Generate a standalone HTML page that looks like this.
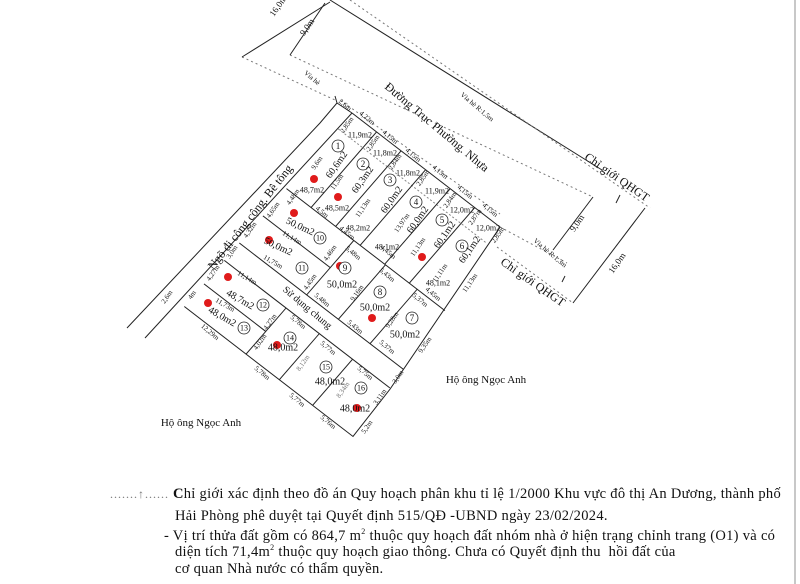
<!DOCTYPE html>
<html><head><meta charset="utf-8"><style>
html,body{margin:0;padding:0;background:#fff;}
body{width:800px;height:584px;overflow:hidden;position:relative;font-family:"Liberation Serif",serif;}
svg{position:absolute;left:0;top:0;}
.t{font-family:"Liberation Serif",serif;fill:#111;}
.note{position:absolute;font-size:14.5px;letter-spacing:0.3px;color:#111;white-space:nowrap;font-family:"Liberation Serif","Noto Serif CJK SC",serif;}
</style></head><body>
<svg width="800" height="584" viewBox="0 0 800 584">
<g stroke="#222" fill="none" stroke-width="1">
 <line x1="330" y1="0" x2="602" y2="170"/>
 <line x1="350" y1="0" x2="650" y2="208" stroke="#777" stroke-dasharray="2 3"/>
 <line x1="290" y1="55" x2="593" y2="197" stroke="#777" stroke-dasharray="2 3"/>
 <line x1="242" y1="57" x2="335" y2="100" stroke="#777" stroke-dasharray="2 3"/>
 <line x1="242" y1="57" x2="330" y2="2"/>
 <line x1="290" y1="55" x2="325" y2="3"/>
 <line x1="593" y1="197" x2="553" y2="250"/>
 <line x1="645" y1="208" x2="573" y2="303"/>
 <line x1="340" y1="100" x2="500" y2="214" stroke="#777" stroke-dasharray="2 3"/>
 <line x1="500" y1="227" x2="567" y2="263" stroke="#777" stroke-dasharray="2 3"/>
 <line x1="497" y1="247" x2="573" y2="303" stroke="#777" stroke-dasharray="2 3"/>
 <line x1="620" y1="195" x2="616" y2="203"/>
 <line x1="562" y1="282" x2="565" y2="276"/>
 <polyline points="335,96 337,103 320,123 127,328"/>
 <line x1="352" y1="113" x2="145" y2="338"/>
 <line x1="337" y1="103" x2="352" y2="113"/>
</g>
<g transform="matrix(0.792 0.610 -0.655 0.756 352 113)" stroke="#222" fill="none" stroke-width="1">
 <line x1="0" y1="0" x2="187" y2="0"/>
 <line x1="0" y1="21" x2="187" y2="21" stroke="#888" stroke-dasharray="2 2"/>
 <line x1="31" y1="0" x2="31" y2="100"/>
 <line x1="62" y1="0" x2="62" y2="100"/>
 <line x1="93" y1="0" x2="93" y2="100"/>
 <line x1="124" y1="0" x2="124" y2="100"/>
 <line x1="155" y1="0" x2="155" y2="100"/>
 <polyline points="187,0 210,196 213,256 0,256"/>
 <line x1="0" y1="100" x2="200" y2="100"/>
 <line x1="0" y1="136" x2="85" y2="136"/>
 <line x1="85" y1="100" x2="85" y2="172"/>
 <line x1="125" y1="100" x2="125" y2="172"/>
 <line x1="165" y1="100" x2="165" y2="172"/>
 <line x1="0" y1="172" x2="207" y2="172"/>
 <line x1="0" y1="195" x2="209" y2="195"/>
 <line x1="0" y1="226" x2="78" y2="226"/>
 <line x1="78" y1="195" x2="78" y2="256"/>
 <line x1="120" y1="195" x2="120" y2="256"/>
 <line x1="162" y1="195" x2="162" y2="256"/>
</g>
<line x1="795" y1="0" x2="795" y2="584" stroke="#c8c8c8" stroke-width="2"/>
<g fill="#e01b1b">
 <circle cx="314" cy="179" r="4"/><circle cx="338" cy="197" r="4"/><circle cx="294" cy="213" r="4"/>
 <circle cx="269" cy="240" r="4"/><circle cx="340" cy="266" r="4"/><circle cx="228" cy="277" r="4"/>
 <circle cx="208" cy="303" r="4"/><circle cx="372" cy="318" r="4"/><circle cx="277" cy="345" r="4"/>
 <circle cx="357" cy="408" r="4"/><circle cx="422" cy="257" r="4"/>
</g>
<g fill="#fff" stroke="#222" stroke-width="0.8">
 <circle cx="338" cy="146" r="6"/><circle cx="363" cy="164" r="6"/><circle cx="390" cy="180" r="6"/>
 <circle cx="416" cy="202" r="6"/><circle cx="442" cy="220" r="6"/><circle cx="462" cy="246" r="6"/>
 <circle cx="412" cy="318" r="6"/><circle cx="380" cy="292" r="6"/><circle cx="345" cy="268" r="6"/>
 <circle cx="320" cy="238" r="6"/><circle cx="302" cy="268" r="6"/><circle cx="263" cy="305" r="6"/>
 <circle cx="244" cy="328" r="6"/><circle cx="290" cy="338" r="6"/><circle cx="326" cy="367" r="6"/>
 <circle cx="361" cy="388" r="6"/>
</g>
<g class="t" font-size="9" text-anchor="middle" dominant-baseline="central">
 <text x="338" y="146">1</text><text x="363" y="164">2</text><text x="390" y="180">3</text>
 <text x="416" y="202">4</text><text x="442" y="220">5</text><text x="462" y="246">6</text>
 <text x="412" y="318">7</text><text x="380" y="292">8</text><text x="345" y="268">9</text>
 <text x="320" y="238" font-size="8">10</text><text x="302" y="268" font-size="8">11</text><text x="263" y="305" font-size="8">12</text>
 <text x="244" y="328" font-size="8">13</text><text x="290" y="338" font-size="8">14</text><text x="326" y="367" font-size="8">15</text>
 <text x="361" y="388" font-size="8">16</text>
</g>
<g class="t" text-anchor="middle" dominant-baseline="central" font-size="7">
 <text transform="translate(278,6) rotate(-55)" font-size="9">16,0m</text>
 <text transform="translate(307,27) rotate(-55)" font-size="9">9,0m</text>
 <text transform="translate(312,78) rotate(40)">Vỉa hè</text>
 <text transform="translate(345,105) rotate(40)">2,6m</text>
 <text transform="translate(437,127) rotate(40)" font-size="12">Đường Trục Phường. Nhựa</text>
 <text transform="translate(477,107) rotate(40)">Vỉa hè R:1,5m</text>
 <text transform="translate(367,118) rotate(40)">4,22m</text>
 <text transform="translate(347,125) rotate(-55)">2,85m</text>
 <text x="360" y="135" font-size="8">11,9m2</text>
 <text transform="translate(317,163) rotate(-55)">9,6m</text>
 <text transform="translate(337,165) rotate(-55)" font-size="10">60,6m2</text>
 <text x="312" y="190" font-size="8">48,7m2</text>
 <text transform="translate(390,137) rotate(40)">4,15m</text>
 <text transform="translate(373,143) rotate(-55)">2,85m</text>
 <text x="385" y="153" font-size="8">11,8m2</text>
 <text transform="translate(337,182) rotate(-55)">11,5m</text>
 <text transform="translate(363,180) rotate(-55)" font-size="10">60,3m2</text>
 <text x="337" y="208" font-size="8">48,5m2</text>
 <text transform="translate(413,155) rotate(40)">4,15m</text>
 <text transform="translate(395,162) rotate(-55)">2,84m</text>
 <text x="408" y="173" font-size="8">11,8m2</text>
 <text transform="translate(363,208) rotate(-55)">11,13m</text>
 <text transform="translate(392,200) rotate(-55)" font-size="10">60,0m2</text>
 <text x="358" y="228" font-size="8">48,2m2</text>
 <text transform="translate(440,172) rotate(40)">4,15m</text>
 <text transform="translate(423,178) rotate(-55)">2,85m</text>
 <text x="437" y="191" font-size="8">11,9m2</text>
 <text transform="translate(402,223) rotate(-55)">13,97m</text>
 <text transform="translate(418,220) rotate(-55)" font-size="10">60,0m2</text>
 <text transform="translate(465,192) rotate(40)">4,15m</text>
 <text transform="translate(450,200) rotate(-55)">2,84m</text>
 <text x="462" y="210" font-size="8">12,0m2</text>
 <text transform="translate(445,235) rotate(-55)" font-size="10">60,1m2</text>
 <text transform="translate(490,210) rotate(40)">4,15m</text>
 <text transform="translate(475,217) rotate(-55)">2,87m</text>
 <text x="488" y="228" font-size="8">12,0m2</text>
 <text transform="translate(498,235) rotate(-55)">2,85m</text>
 <text transform="translate(470,250) rotate(-55)" font-size="10">60,1m2</text>
 <text transform="translate(250,217) rotate(-52)" font-size="12">Ngõ đi công cộng. Bê tông</text>
 <text transform="translate(293,197) rotate(-55)">4,48m</text>
 <text transform="translate(322,212) rotate(40)">4,5m</text>
 <text transform="translate(273,210) rotate(-55)">4,65m</text>
 <text transform="translate(250,230) rotate(-55)">4,32m</text>
 <text transform="translate(300,227) rotate(25)" font-size="10">50,0m2</text>
 <text transform="translate(292,238) rotate(30)">11,14m</text>
 <text transform="translate(347,233) rotate(40)">4,45m</text>
 <text x="387" y="247" font-size="8">48,1m2</text>
 <text transform="translate(388,252) rotate(40)">4,45m</text>
 <text transform="translate(418,247) rotate(-55)">11,13m</text>
 <text transform="translate(232,252) rotate(-55)">3,0m</text>
 <text transform="translate(278,247) rotate(25)" font-size="10">50,0m2</text>
 <text transform="translate(273,262) rotate(30)">11,75m</text>
 <text transform="translate(330,253) rotate(-55)">4,46m</text>
 <text transform="translate(310,282) rotate(-55)">4,45m</text>
 <text transform="translate(353,253) rotate(40)">5,48m</text>
 <text x="342" y="285" font-size="10">50,0m2</text>
 <text transform="translate(387,275) rotate(40)">5,43m</text>
 <text transform="translate(357,293) rotate(-55)">9,16m</text>
 <text transform="translate(433,294) rotate(40)">4,45m</text>
 <text x="438" y="283" font-size="8">48,1m2</text>
 <text transform="translate(420,300) rotate(40)">5,37m</text>
 <text transform="translate(322,300) rotate(40)">5,48m</text>
 <text x="375" y="308" font-size="10">50,0m2</text>
 <text transform="translate(392,320) rotate(-55)">9,28m</text>
 <text x="405" y="335" font-size="10">50,0m2</text>
 <text transform="translate(355,327) rotate(40)">5,43m</text>
 <text transform="translate(387,347) rotate(40)">5,37m</text>
 <text transform="translate(425,345) rotate(-55)">9,35m</text>
 <text transform="translate(440,273) rotate(-55)">11,11m</text>
 <text transform="translate(470,283) rotate(-55)">11,13m</text>
 <text transform="translate(213,273) rotate(-55)">4,27m</text>
 <text transform="translate(247,278) rotate(30)">11,14m</text>
 <text transform="translate(240,300) rotate(30)" font-size="10">48,7m2</text>
 <text transform="translate(307,308) rotate(40)" font-size="10">Sử dụng chung</text>
 <text transform="translate(192,295) rotate(-55)">4m</text>
 <text transform="translate(167,297) rotate(-55)">2,6m</text>
 <text transform="translate(225,305) rotate(30)">11,73m</text>
 <text transform="translate(222,317) rotate(30)" font-size="10">48,0m2</text>
 <text transform="translate(270,322) rotate(-55)">4,27m</text>
 <text transform="translate(210,332) rotate(40)">12,29m</text>
 <text transform="translate(260,342) rotate(-55)">4,02m</text>
 <text transform="translate(298,322) rotate(40)">5,78m</text>
 <text x="283" y="348" font-size="10">48,0m2</text>
 <text transform="translate(328,348) rotate(40)">5,77m</text>
 <text transform="translate(303,363) rotate(-55)" fill="#777">8,12m</text>
 <text x="330" y="382" font-size="10">48,0m2</text>
 <text transform="translate(262,373) rotate(40)">5,78m</text>
 <text transform="translate(365,373) rotate(40)">5,75m</text>
 <text transform="translate(343,390) rotate(-55)" fill="#777">8,34m</text>
 <text x="355" y="409" font-size="10">48,0m2</text>
 <text transform="translate(297,400) rotate(40)">5,77m</text>
 <text transform="translate(328,422) rotate(40)">5,76m</text>
 <text transform="translate(398,377) rotate(-55)">3,0m</text>
 <text transform="translate(380,397) rotate(-55)">3,11m</text>
 <text transform="translate(367,427) rotate(-55)">5,2m</text>
 <text x="201" y="423" font-size="11">Hộ ông Ngọc Anh</text>
 <text x="486" y="380" font-size="11">Hộ ông Ngọc Anh</text>
 <text transform="translate(617,177) rotate(35)" font-size="12">Chỉ giới QHGT</text>
 <text transform="translate(533,282) rotate(35)" font-size="12">Chỉ giới QHGT</text>
 <text transform="translate(577,223) rotate(-55)" font-size="9">9,0m</text>
 <text transform="translate(617,263) rotate(-55)" font-size="9">16,0m</text>
 <text transform="translate(550,253) rotate(40)">Vỉa hè R:1,3m</text>
</g>
</svg>
<div class="note" style="left:110px;top:486px;"><span style="color:#777;letter-spacing:1px;font-size:12px;">.......↑......</span> <b>C</b>hỉ giới xác định theo đồ án Quy hoạch phân khu tỉ lệ 1/2000 Khu vực đô thị An Dương, thành phố</div>
<div class="note" style="left:175px;top:508px;">Hải Phòng phê duyệt tại Quyết định 515/QĐ -UBND ngày 23/02/2024.</div>
<div class="note" style="left:164px;top:527px;">- Vị trí thửa đất gồm có 864,7 m<sup style="font-size:8px">2</sup> thuộc quy hoạch đất nhóm nhà ở hiện trạng chỉnh trang (O1) và có</div>
<div class="note" style="left:175px;top:543px;">diện tích 71,4m<sup style="font-size:8px">2</sup> thuộc quy hoạch giao thông. Chưa có Quyết định thu&nbsp; hồi đất của</div>
<div class="note" style="left:175px;top:561px;">cơ quan Nhà nước có thẩm quyền.</div>
</body></html>
